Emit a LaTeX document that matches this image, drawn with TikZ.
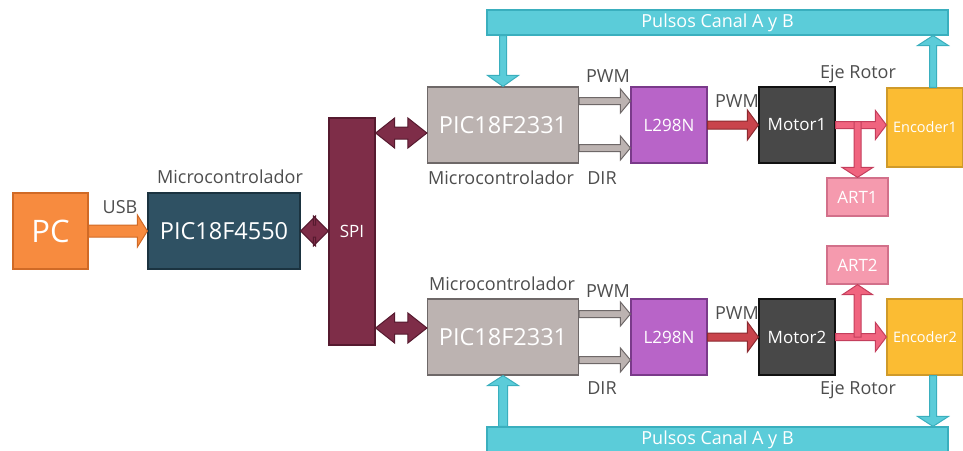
\documentclass[tikz,border=0pt]{standalone}
\usepackage{fontspec}
\setmainfont{Open Sans}
\usetikzlibrary{calc, positioning}

\definecolor{pcfill}{HTML}{F78B3F}  \definecolor{pcline}{HTML}{D06A26}
\definecolor{picfill}{HTML}{2F5163} \definecolor{picline}{HTML}{1B3340}
\definecolor{spifill}{HTML}{7E2D48} \definecolor{spiline}{HTML}{561A2F}
\definecolor{micfill}{HTML}{BCB3B1} \definecolor{micline}{HTML}{6E6868}
\definecolor{drvfill}{HTML}{B864C8} \definecolor{drvline}{HTML}{7A3A8A}
\definecolor{motfill}{HTML}{484848} \definecolor{motline}{HTML}{111111}
\definecolor{encfill}{HTML}{FBBC33} \definecolor{encline}{HTML}{CF9A2A}
\definecolor{artfill}{HTML}{F59AAE} \definecolor{artline}{HTML}{D2708A}
\definecolor{pulfill}{HTML}{5BCCD9} \definecolor{pulline}{HTML}{3AAFBE}
\definecolor{pwmfill}{HTML}{C9444C} \definecolor{pwmline}{HTML}{8C2A30}
\definecolor{ejefill}{HTML}{F0647F} \definecolor{ejeline}{HTML}{C43E5C}
\definecolor{lbltext}{HTML}{4D4D4D}

% fat arrow: [style]{from}{to}{shaft half width}{head half width}{head length}
\newcommand{\fatarrow}[6][]{%
  \draw[#1] let \p1=(#2), \p2=(#3), \n1={atan2(\y2-\y1,\x2-\x1)} in
    ($(\p1)+(\n1+90:#4)$) -- ($(\p2)+(\n1+180:#6)+(\n1+90:#4)$)
    -- ($(\p2)+(\n1+180:#6)+(\n1+90:#5)$) -- (\p2)
    -- ($(\p2)+(\n1+180:#6)+(\n1-90:#5)$) -- ($(\p2)+(\n1+180:#6)+(\n1-90:#4)$)
    -- ($(\p1)+(\n1-90:#4)$) -- cycle;}
\newcommand{\fatdarrow}[6][]{%
  \draw[#1] let \p1=(#2), \p2=(#3), \n1={atan2(\y2-\y1,\x2-\x1)} in
    (\p1) -- ($(\p1)+(\n1:#6)+(\n1+90:#5)$) -- ($(\p1)+(\n1:#6)+(\n1+90:#4)$)
    -- ($(\p2)+(\n1+180:#6)+(\n1+90:#4)$) -- ($(\p2)+(\n1+180:#6)+(\n1+90:#5)$)
    -- (\p2) -- ($(\p2)+(\n1+180:#6)+(\n1-90:#5)$) -- ($(\p2)+(\n1+180:#6)+(\n1-90:#4)$)
    -- ($(\p1)+(\n1:#6)+(\n1-90:#4)$) -- ($(\p1)+(\n1:#6)+(\n1-90:#5)$) -- cycle;}

\begin{document}
\begin{tikzpicture}[x=1pt, y=-1pt,
        box/.style={rectangle, line width=1.2pt, inner sep=0pt, align=center, text=white, font=\fontsize{17}{20}\selectfont},
        pcbox/.style={box, fill=pcfill, draw=pcline, minimum width=75pt, minimum height=76pt, font=\fontsize{31}{36}\selectfont},
        picbox/.style={box, fill=picfill, draw=picline, minimum width=152pt, minimum height=76pt, font=\fontsize{23.5}{28}\selectfont},
        spibox/.style={box, fill=spifill, draw=spiline, minimum width=46pt, minimum height=227pt},
        micbox/.style={box, fill=micfill, draw=micline, minimum width=151pt, minimum height=76pt, font=\fontsize{23.5}{28}\selectfont},
        drvbox/.style={box, fill=drvfill, draw=drvline, minimum width=76pt, minimum height=76pt},
        motbox/.style={box, fill=motfill, draw=motline, minimum width=76pt, minimum height=76pt},
        encbox/.style={box, fill=encfill, draw=encline, minimum width=76pt, minimum height=76pt, font=\fontsize{14.5}{17}\selectfont},
        artbox/.style={box, fill=artfill, draw=artline, minimum width=61pt, minimum height=38pt},
        pulbox/.style={box, fill=pulfill, draw=pulline, minimum width=461pt, minimum height=25pt, font=\fontsize{18}{21}\selectfont},
        lbl/.style={anchor=base, inner sep=0pt, text=lbltext, font=\fontsize{18}{21}\selectfont},
        usbarr/.style={fill=pcfill, draw=pcline, line width=1pt, line join=miter},
        spiarr/.style={fill=spifill, draw=spiline, line width=1pt, line join=miter},
        sigarr/.style={fill=micfill, draw=micline, line width=1pt, line join=miter},
        pwmarr/.style={fill=pwmfill, draw=pwmline, line width=1pt, line join=miter},
        ejearr/.style={fill=ejefill, draw=ejeline, line width=1pt, line join=miter},
        pularr/.style={fill=pulfill, draw=pulline, line width=1pt, line join=miter}
      ]
\useasboundingbox (0,0) rectangle (963,450);
\clip (0,0) rectangle (963,450);

\node[pcbox] (pc) at (50.5,231) {PC};
      \node[picbox] (pic0) at (224,231) {PIC18F4550};
      \node[spibox] (spi) at (352,231.5) {SPI};
      \node[micbox] (pic1) at (503,125) {PIC18F2331};
      \node[micbox] (pic2) at (503,337) {PIC18F2331};
      \node[drvbox] (drv1) at (669,125) {L298N};
      \node[drvbox] (drv2) at (669,337) {L298N};
      \node[motbox] (mot1) at (797,125) {Motor1};
      \node[motbox] (mot2) at (797,337) {Motor2};
      \node[encbox, minimum height=79pt] (enc1) at (925,127.5) {Encoder1};
      \node[encbox] (enc2) at (925,337) {Encoder2};
      \node[artbox] (art1) at (857.5,197) {ART1};
      \node[artbox] (art2) at (857.5,265) {ART2};
      \node[pulbox] (pul1) at (717.5,22.5) {Pulsos Canal A y B};
      \node[pulbox, minimum height=26pt] (pul2) at (717.5,440) {Pulsos Canal A y B};

\node[lbl] (usb) at (120,213.5) {USB};
      \node[lbl] (mc0) at (230,183) {Microcontrolador};
      \node[lbl] (mc1) at (501,184) {Microcontrolador};
      \node[lbl] (mc2) at (502,290) {Microcontrolador};
      \node[lbl] (pwm1) at (608,82.5) {PWM};
      \node[lbl] (dir1) at (602,184.5) {DIR};
      \node[lbl] (pwm2) at (608,297.5) {PWM};
      \node[lbl] (dir2) at (602,394.5) {DIR};
      \node[lbl] (pwm3) at (737,107.5) {PWM};
      \node[lbl] (pwm4) at (737,319.5) {PWM};
      \node[lbl] (eje1) at (858,78.5) {Eje Rotor};
      \node[lbl] (eje2) at (858,394.5) {Eje Rotor};

\fatarrow[usbarr]{pc.east}{pic0.west}{6pt}{16pt}{10pt}
      \fatdarrow[spiarr]{pic0.east}{pic0.east -| spi.west}{6pt}{15pt}{15pt}
      \fatdarrow[spiarr]{[yshift=-8pt]pic1.west -| spi.east}{[yshift=-8pt]pic1.west}{6pt}{15pt}{19pt}
      \fatdarrow[spiarr]{[yshift=9pt]pic2.west -| spi.east}{[yshift=9pt]pic2.west}{6pt}{15pt}{19pt}

\fatarrow[sigarr]{[yshift=24pt]pic1.east}{[yshift=24pt]drv1.west}{3.5pt}{12pt}{10pt}
      \fatarrow[sigarr]{[yshift=-23pt]pic1.east}{[yshift=-23pt]drv1.west}{3.5pt}{12pt}{10pt}
      \fatarrow[sigarr]{[yshift=23pt]pic2.east}{[yshift=23pt]drv2.west}{3.5pt}{12pt}{10pt}
      \fatarrow[sigarr]{[yshift=-23pt]pic2.east}{[yshift=-23pt]drv2.west}{3.5pt}{12pt}{10pt}

\fatarrow[pwmarr]{drv1.east}{mot1.west}{4pt}{15pt}{11pt}
      \fatarrow[pwmarr]{drv2.east}{mot2.west}{4pt}{15pt}{11pt}

\fatarrow[ejearr]{mot1.east}{mot1.east -| enc1.west}{3.5pt}{14.5pt}{11pt}
      \fatarrow[ejearr]{[yshift=3.5pt]art1.north |- mot1.east}{art1.north}{3.5pt}{15.5pt}{10pt}
      \fatarrow[ejearr]{mot2.east}{enc2.west}{3.5pt}{14.5pt}{11pt}
      \fatarrow[ejearr]{art2.south |- mot2.east}{art2.south}{3.5pt}{15pt}{10pt}

\fatarrow[pularr]{pic1.north |- pul1.south}{pic1.north}{3.5pt}{15.5pt}{11pt}
      \fatarrow[pularr]{[xshift=8pt]enc1.north}{[xshift=8pt]enc1.north |- pul1.south}{3.5pt}{15.5pt}{10pt}
      \fatarrow[pularr]{pic2.south |- pul2.north}{pic2.south}{4.5pt}{15.5pt}{10pt}
      \fatarrow[pularr]{[xshift=8pt]enc2.south}{[xshift=8pt]enc2.south |- pul2.north}{3.5pt}{15.5pt}{10pt}

      \end{tikzpicture}
\end{document}
